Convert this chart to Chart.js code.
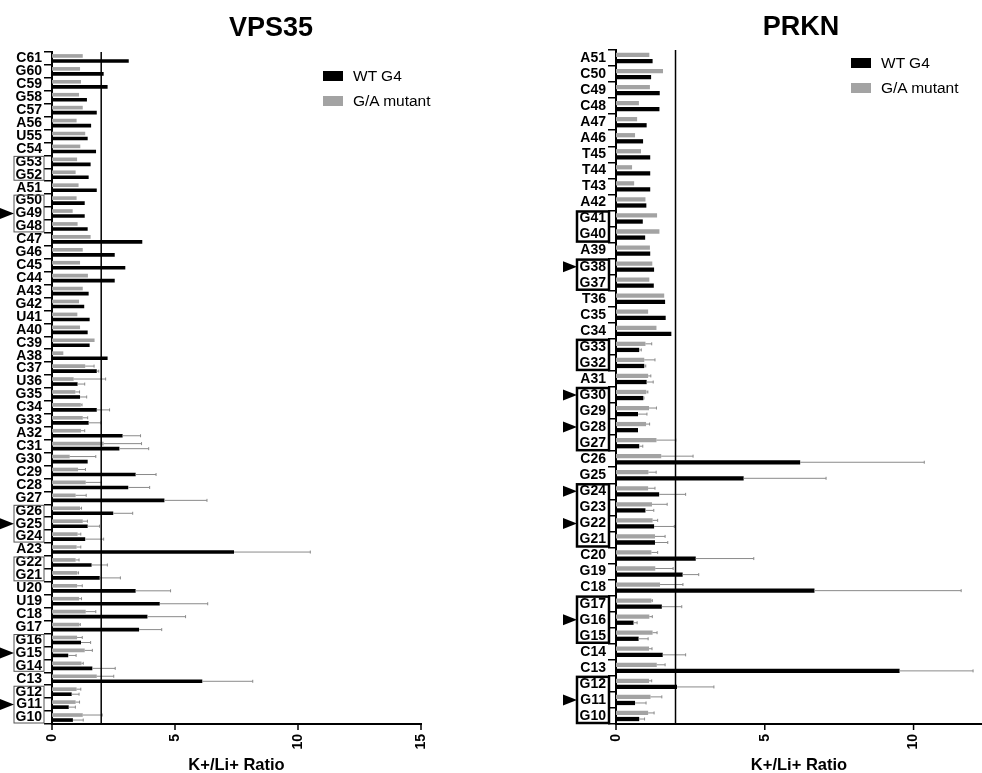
<!DOCTYPE html>
<html>
<head>
<meta charset="utf-8">
<script src="https://cdn.jsdelivr.net/npm/chart.js@4.4.1/dist/chart.umd.min.js"></script>
<style>
  body { margin: 0; background: #fff; font-family: 'Liberation Sans', Arial, Helvetica, sans-serif; }
  #page { position: relative; width: 982px; height: 773px; overflow: hidden; }
  .panel { position: absolute; top: 0; }
  .title { position: absolute; font-weight: bold; font-size: 27px; transform: translate(-50%, -50%); white-space: nowrap; color: #000; }
  .legend { position: absolute; font-size: 15.5px; color: #000; }
  .legend .item { height: 25px; display: flex; align-items: center; white-space: nowrap; }
  .legend .sw { display: inline-block; width: 20px; height: 10px; margin-right: 10px; }
</style>
</head>
<body>
<div id="page">
  <canvas id="vpsChart" class="panel" style="left:0" width="440" height="773"></canvas>
  <canvas id="prknChart" class="panel" style="left:491px" width="491" height="773"></canvas>

  <div class="title" style="left:271px; top:27px">VPS35</div>
  <div class="title" style="left:801px; top:26px">PRKN</div>

  <div class="legend" style="left:323px; top:63px">
    <div class="item"><span class="sw" style="background:#000"></span>WT G4</div>
    <div class="item"><span class="sw" style="background:#a3a3a3"></span>G/A mutant</div>
  </div>
  <div class="legend" style="left:851px; top:50px">
    <div class="item"><span class="sw" style="background:#000"></span>WT G4</div>
    <div class="item"><span class="sw" style="background:#a3a3a3"></span>G/A mutant</div>
  </div>
</div>

<script>
// ---- VPS35 (de cima para baixo) ----
const vpsLabels = ['C61','G60','C59','G58','C57','A56','U55','C54','G53','G52','A51','G50','G49','G48','C47','G46','C45','C44','A43','G42','U41','A40','C39','A38','C37','U36','G35','C34','G33','A32','C31','G30','C29','C28','G27','G26','G25','G24','A23','G22','G21','U20','U19','C18','G17','G16','G15','G14','C13','G12','G11','G10'];
const vpsWT = [3.12,2.10,2.26,1.42,1.82,1.59,1.45,1.79,1.57,1.49,1.82,1.33,1.33,1.45,3.67,2.55,2.98,2.55,1.49,1.31,1.53,1.45,1.53,2.26,1.82,1.04,1.14,1.82,1.49,2.87,2.74,1.45,3.40,3.10,4.57,2.49,1.45,1.35,7.40,1.61,1.94,3.40,4.38,3.88,3.54,1.18,0.66,1.64,6.11,0.80,0.68,0.85];
const vpsWTErr = [null,null,null,null,null,null,null,null,null,null,null,null,null,null,null,null,null,null,null,null,null,null,null,null,1.90,1.33,1.41,2.34,1.98,3.60,3.93,null,4.23,3.97,6.30,3.28,1.93,2.10,10.50,2.25,2.78,4.82,6.33,5.43,4.46,1.57,0.98,2.57,8.16,1.10,0.95,1.27];
const vpsGA = [1.25,1.14,1.18,1.10,1.25,1.00,1.35,1.15,1.02,0.96,1.08,1.00,0.84,1.04,1.57,1.25,1.14,1.46,1.25,1.10,1.03,1.14,1.73,0.46,1.35,0.88,0.95,1.17,1.25,1.18,2.10,0.72,1.06,1.37,0.96,1.14,1.25,1.04,1.00,0.96,1.03,1.02,1.10,1.37,1.11,1.02,1.33,1.20,1.82,1.00,0.96,1.25];
const vpsGAErr = [null,null,null,null,null,null,null,null,null,null,null,null,null,null,null,null,null,null,null,null,null,null,null,null,1.71,2.18,1.12,1.22,1.45,1.33,3.64,1.78,1.36,2.00,1.39,1.20,1.44,1.17,1.17,1.10,1.08,1.23,1.20,1.78,1.15,1.23,1.64,1.27,2.51,1.17,1.12,2.04];
const vpsBoxes = [['G53','G52'],['G50','G48'],['G26','G24'],['G22','G21'],['G16','G14'],['G12','G10']];
const vpsArrows = ['G49','G25','G15','G11'];
const vpsXTicks = [0, 5, 10, 15];

// ---- PRKN (de cima para baixo) ----
const prknLabels = ['A51','C50','C49','C48','A47','A46','T45','T44','T43','A42','G41','G40','A39','G38','G37','T36','C35','C34','G33','G32','A31','G30','G29','G28','G27','C26','G25','G24','G23','G22','G21','C20','G19','C18','G17','G16','G15','C14','C13','G12','G11','G10'];
const prknWT = [1.23,1.18,1.47,1.46,1.03,0.91,1.15,1.15,1.15,1.02,0.90,0.98,1.15,1.28,1.27,1.65,1.67,1.86,0.78,0.95,1.03,0.92,0.74,0.74,0.78,6.19,4.29,1.45,0.99,1.28,1.31,2.68,2.24,6.67,1.54,0.59,0.76,1.57,9.53,2.05,0.64,0.78];
const prknWTErr = [null,null,null,null,null,null,null,null,null,null,null,null,null,null,null,null,null,null,0.85,1.00,1.25,0.94,1.04,null,0.90,10.36,7.06,2.34,1.27,1.96,1.74,4.63,2.78,11.60,2.21,0.71,1.08,2.34,12.00,3.29,1.01,0.96];
const prknGA = [1.12,1.58,1.14,0.77,0.71,0.64,0.84,0.54,0.61,0.99,1.38,1.46,1.14,1.22,1.12,1.62,1.08,1.36,0.99,0.95,1.08,1.02,1.11,1.01,1.36,1.52,1.09,1.08,1.21,1.23,1.31,1.19,1.32,1.48,1.19,1.12,1.23,1.11,1.37,1.11,1.16,1.08];
const prknGAErr = [null,null,null,null,null,null,null,null,null,null,null,null,null,null,null,null,null,null,1.20,1.31,1.17,1.07,1.36,1.13,2.01,2.59,1.35,1.31,1.72,1.40,1.65,1.40,1.92,2.25,1.22,1.22,1.38,1.21,1.65,1.20,1.54,1.28];
const prknBoxes = [['G41','G40'],['G38','G37'],['G33','G32'],['G30','G27'],['G24','G21'],['G17','G15'],['G12','G10']];
const prknArrows = ['G38','G30','G28','G24','G22','G16','G11'];
const prknXTicks = [0, 5, 10];

const limiar = 2;
const FONTE = "'Liberation Sans', Arial, Helvetica, sans-serif";

// Desenha barras de erro, linha de referência, ticks do eixo x, caixas e setas
function pluginExtras(cfg) {
    return {
        id: 'extras',
        afterDatasetsDraw(chart) {
            const ctx = chart.ctx;
            const xs = chart.scales.x;
            const area = chart.chartArea;
            ctx.save();
            ctx.strokeStyle = '#8a8a8a';
            ctx.lineWidth = 1;
            chart.data.datasets.forEach((ds, di) => {
                const meta = chart.getDatasetMeta(di);
                const errs = cfg.errs[di];
                meta.data.forEach((bar, i) => {
                    const e = errs[i];
                    if (e == null) return;
                    const x2 = xs.getPixelForValue(e);
                    ctx.beginPath();
                    ctx.moveTo(bar.x, bar.y);
                    ctx.lineTo(x2, bar.y);
                    ctx.moveTo(x2, bar.y - 1.5);
                    ctx.lineTo(x2, bar.y + 1.5);
                    ctx.stroke();
                });
            });
            // linha de referência
            const xr = xs.getPixelForValue(limiar);
            ctx.strokeStyle = '#000';
            ctx.lineWidth = 1.5;
            ctx.beginPath();
            ctx.moveTo(xr, area.top);
            ctx.lineTo(xr, area.bottom);
            ctx.stroke();
            ctx.restore();
        },
        afterDraw(chart) {
            const ctx = chart.ctx;
            const xs = chart.scales.x, ys = chart.scales.y;
            const area = chart.chartArea;
            const labels = chart.data.labels;
            ctx.save();
            // ticks do eixo x (texto girado)
            ctx.strokeStyle = '#000';
            ctx.fillStyle = '#000';
            ctx.lineWidth = 1.5;
            ctx.font = 'bold 14px ' + FONTE;
            cfg.xTicks.forEach(v => {
                const px = xs.getPixelForValue(v);
                ctx.beginPath();
                ctx.moveTo(px, area.bottom);
                ctx.lineTo(px, area.bottom + 6);
                ctx.stroke();
                ctx.save();
                ctx.translate(px, area.bottom + 10);
                ctx.rotate(-Math.PI / 2);
                ctx.textAlign = 'right';
                ctx.textBaseline = 'middle';
                ctx.fillText(String(v), 0, 0);
                ctx.restore();
            });
            // título do eixo
            ctx.font = 'bold 16.5px ' + FONTE;
            ctx.textAlign = 'center';
            ctx.textBaseline = 'middle';
            ctx.fillText('K+/Li+ Ratio', (area.left + area.right) / 2, 765);

            // caixas em volta dos rótulos
            const meio = (ys.getPixelForValue(1) - ys.getPixelForValue(0)) / 2;
            ctx.strokeStyle = cfg.boxColor;
            ctx.lineWidth = cfg.boxWidth;
            cfg.boxes.forEach(([a, b]) => {
                const top = ys.getPixelForValue(labels.indexOf(a)) - meio + 1;
                const bottom = ys.getPixelForValue(labels.indexOf(b)) + meio - 1;
                ctx.strokeRect(cfg.boxX0, top, cfg.boxX1 - cfg.boxX0, bottom - top);
            });
            // setas
            ctx.fillStyle = '#000';
            cfg.arrows.forEach(lbl => {
                const y = ys.getPixelForValue(labels.indexOf(lbl));
                ctx.beginPath();
                ctx.moveTo(cfg.arrowTip, y);
                ctx.lineTo(cfg.arrowTip - 14, y - 5.5);
                ctx.lineTo(cfg.arrowTip - 14, y + 5.5);
                ctx.closePath();
                ctx.fill();
            });
            ctx.restore();
        }
    };
}

function criarGrafico(id, labels, ga, wt, xMax, yWidth, pad, catPct, barPct, extras) {
    return new Chart(document.getElementById(id), {
        type: 'bar',
        data: {
            labels: labels,
            datasets: [
                { label: 'G/A mutant', data: ga, backgroundColor: '#a3a3a3' },
                { label: 'WT G4', data: wt, backgroundColor: '#000' }
            ]
        },
        options: {
            indexAxis: 'y',
            responsive: false,
            animation: false,
            devicePixelRatio: 1,
            layout: { padding: pad },
            datasets: { bar: { categoryPercentage: catPct, barPercentage: barPct } },
            plugins: { legend: { display: false }, tooltip: { enabled: false } },
            scales: {
                x: {
                    type: 'linear',
                    min: 0,
                    max: xMax,
                    grid: { display: false },
                    border: { display: true, color: '#000', width: 2 },
                    ticks: { display: false },
                    afterFit(scale) { scale.height = 49; }
                },
                y: {
                    grid: { display: true, drawOnChartArea: false, drawTicks: true, tickLength: 8, color: '#000', lineWidth: 1.5 },
                    border: { display: true, color: '#000', width: 2 },
                    ticks: { autoSkip: false, color: '#000', padding: 2, font: { family: FONTE, size: 14, weight: 'bold' } },
                    afterFit(scale) { scale.width = yWidth; }
                }
            }
        },
        plugins: [pluginExtras(extras)]
    });
}

criarGrafico('vpsChart', vpsLabels, vpsGA, vpsWT, 15, 52,
    { top: 52, right: 19, left: 0, bottom: 0 }, 0.78, 0.72,
    { errs: [vpsGAErr, vpsWTErr], xTicks: vpsXTicks, boxes: vpsBoxes, arrows: vpsArrows,
      boxColor: '#555', boxWidth: 1, boxX0: 14, boxX1: 44, arrowTip: 14 });

criarGrafico('prknChart', prknLabels, prknGA, prknWT, 12.3, 125,
    { top: 50, right: 0, left: 0, bottom: 0 }, 0.76, 0.7,
    { errs: [prknGAErr, prknWTErr], xTicks: prknXTicks, boxes: prknBoxes, arrows: prknArrows,
      boxColor: '#000', boxWidth: 2.5, boxX0: 86, boxX1: 118, arrowTip: 86 });
</script>
</body>
</html>
